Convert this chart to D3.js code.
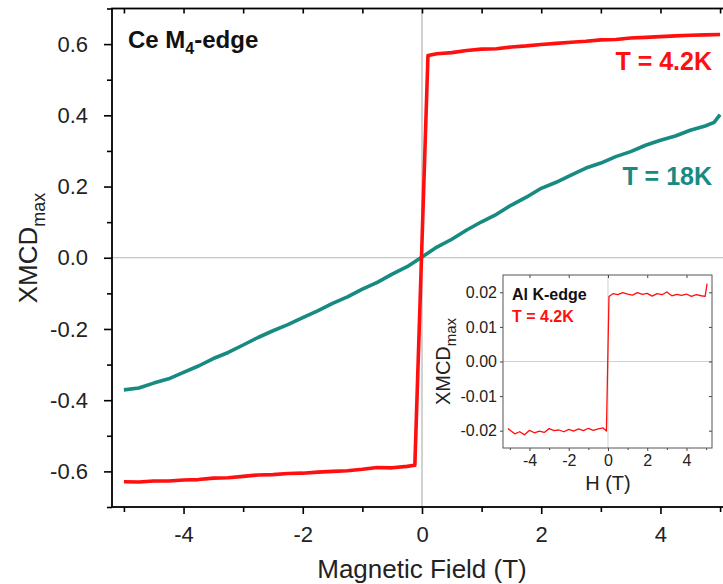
<!DOCTYPE html>
<html>
<head>
<meta charset="utf-8">
<script src="https://cdn.jsdelivr.net/npm/d3@7"></script>
<style>
body { margin: 0; background: #fff; }
text { font-family: "Liberation Sans", Arial, sans-serif; }
.axis path { stroke: none; }
.axis line { stroke: #000; stroke-width: 1.6; }
.axis text { fill: #222; }
.inset .axis line { stroke: #444; stroke-width: 1; }
</style>
</head>
<body>
<div id="svg_container"></div>
<script>

/* -----------------------
data
------------------------- */

// Ce M4-edge, T = 4.2K
var redField = [-5,-4.75,-4.5,-4.25,-4,-3.75,-3.5,-3.25,-3,-2.75,-2.5,-2.25,-2,-1.75,-1.5,-1.25,-1,-0.75,-0.5,-0.25,-0.12,
	0.1,0.25,0.5,0.75,1,1.25,1.5,1.75,2,2.25,2.5,2.75,3,3.25,3.5,3.75,4,4.25,4.5,4.75,5];
var redXmcd = [-0.629,-0.630,-0.627,-0.627,-0.624,-0.623,-0.619,-0.618,-0.614,-0.610,-0.609,-0.606,-0.605,-0.602,-0.600,-0.598,-0.594,-0.589,-0.590,-0.586,-0.583,
	0.568,0.573,0.576,0.582,0.586,0.587,0.592,0.595,0.599,0.602,0.605,0.608,0.612,0.613,0.617,0.619,0.621,0.623,0.625,0.626,0.627];

// Ce M4-edge, T = 18K
var tealField = [-5,-4.75,-4.5,-4.25,-4,-3.75,-3.5,-3.25,-3,-2.75,-2.5,-2.25,-2,-1.75,-1.5,-1.25,-1,-0.75,-0.5,-0.25,0,
	0.25,0.5,0.75,1,1.25,1.5,1.75,2,2.25,2.5,2.75,3,3.25,3.5,3.75,4,4.25,4.5,4.75,4.9,5];
var tealXmcd = [-0.371,-0.366,-0.352,-0.340,-0.322,-0.304,-0.283,-0.266,-0.245,-0.224,-0.205,-0.188,-0.168,-0.149,-0.128,-0.110,-0.088,-0.069,-0.046,-0.025,0.002,
	0.030,0.052,0.078,0.101,0.122,0.148,0.170,0.195,0.212,0.232,0.252,0.266,0.284,0.298,0.316,0.330,0.342,0.358,0.370,0.380,0.402];

// Al K-edge, T = 4.2K (inset)
var alField = [-5.1,-4.75,-4.5,-4.25,-4,-3.75,-3.5,-3.25,-3,-2.75,-2.5,-2.25,-2,-1.75,-1.5,-1.25,-1,-0.75,-0.5,-0.25,-0.08,
	0.05,0.25,0.5,0.75,1,1.25,1.5,1.75,2,2.25,2.5,2.75,3,3.25,3.5,3.75,4,4.25,4.5,4.75,4.95,5.05];
var alXmcd = [-0.0194,-0.0209,-0.0203,-0.0212,-0.0199,-0.0206,-0.0201,-0.0205,-0.0194,-0.0200,-0.0198,-0.0203,-0.0196,-0.0201,-0.0195,-0.0200,-0.0193,-0.0199,-0.0195,-0.0192,-0.0201,
	0.0188,0.0196,0.0193,0.0199,0.0195,0.0192,0.0199,0.0194,0.0197,0.0189,0.0196,0.0193,0.0201,0.0190,0.0194,0.0191,0.0195,0.0188,0.0193,0.0190,0.0188,0.0225];

var xMajor = [-4,-2,0,2,4];
var xMinor = [-5,-3,-1,1,3,5];
var yMajor = [-0.6,-0.4,-0.2,0,0.2,0.4,0.6];
var yMinor = [-0.7,-0.5,-0.3,-0.1,0.1,0.3,0.5,0.7];
var insetYMajor = [-0.02,-0.01,0,0.01,0.02];

/* -----------------------
main variables
------------------------- */

var width = 723;
var height = 584;
var red = '#ff1010';
var teal = '#178a82';

var svg = d3.select("#svg_container")
	.append("svg")
	.attr("width", width)
	.attr("height", height);

var x = d3.scaleLinear().domain([-5.2, 5.2]).range([112, 732]);
var y = d3.scaleLinear().domain([-0.7, 0.7]).range([507, 8.5]);

var zip = function (xs, ys) { return xs.map(function (v, i) { return [v, ys[i]]; }); };

// plain hyphen for minus, like the original
var fmt = function (f) { return function (d) { return d3.format(f)(d).replace('\u2212', '-'); }; };

/* -----------------------
main plot
------------------------- */

svg.append('clipPath').attr('id', 'clip')
	.append('rect')
	.attr('x', x(-5.2)).attr('y', y(0.7))
	.attr('width', x(5.2) - x(-5.2)).attr('height', y(-0.7) - y(0.7));

// zero lines
svg.append('line')
	.attr('x1', x(-5.2)).attr('x2', x(5.2))
	.attr('y1', y(0)).attr('y2', y(0))
	.attr('stroke', '#b4b4b4').attr('stroke-width', 1.2);
svg.append('line')
	.attr('x1', x(0)).attr('x2', x(0))
	.attr('y1', y(0.7)).attr('y2', y(-0.7))
	.attr('stroke', '#b4b4b4').attr('stroke-width', 1.2);

var line = d3.line()
	.x(function (d) { return x(d[0]); })
	.y(function (d) { return y(d[1]); });

svg.append('path')
	.datum(zip(tealField, tealXmcd))
	.attr('clip-path', 'url(#clip)')
	.attr('d', line)
	.attr('fill', 'none')
	.attr('stroke', teal)
	.attr('stroke-width', 3.6)
	.attr('stroke-linejoin', 'round');

svg.append('path')
	.datum(zip(redField, redXmcd))
	.attr('clip-path', 'url(#clip)')
	.attr('d', line)
	.attr('fill', 'none')
	.attr('stroke', red)
	.attr('stroke-width', 3.6)
	.attr('stroke-linejoin', 'round');

/* --- axes --- */

var axBottom = svg.append('g').attr('class', 'axis')
	.attr('transform', 'translate(0,' + y(-0.7) + ')');
axBottom.call(d3.axisBottom(x).tickValues(xMajor).tickSize(7).tickPadding(12).tickFormat(fmt('d')));
axBottom.append('g').call(d3.axisBottom(x).tickValues(xMinor).tickSize(5).tickFormat(''));
axBottom.selectAll('text').attr('font-size', 22);

var axLeft = svg.append('g').attr('class', 'axis')
	.attr('transform', 'translate(' + x(-5.2) + ',0)');
axLeft.call(d3.axisLeft(y).tickValues(yMajor).tickSize(8).tickPadding(16).tickFormat(fmt('.1f')));
axLeft.append('g').call(d3.axisLeft(y).tickValues(yMinor).tickSize(5).tickFormat(''));
axLeft.selectAll('text').attr('font-size', 22);

var axTop = svg.append('g').attr('class', 'axis')
	.attr('transform', 'translate(0,' + y(0.7) + ')');
axTop.call(d3.axisTop(x).tickValues(xMajor.concat(xMinor)).tickSize(-5).tickFormat(''));

var axRight = svg.append('g').attr('class', 'axis')
	.attr('transform', 'translate(' + x(5.2) + ',0)');
axRight.call(d3.axisRight(y).tickValues(yMajor.concat(yMinor)).tickSize(-5).tickFormat(''));

svg.append('rect')
	.attr('x', x(-5.2)).attr('y', y(0.7))
	.attr('width', x(5.2) - x(-5.2)).attr('height', y(-0.7) - y(0.7))
	.attr('fill', 'none').attr('stroke', '#000').attr('stroke-width', 1.8);

/* --- labels --- */

svg.append('text')
	.attr('x', x(0)).attr('y', 578)
	.attr('text-anchor', 'middle')
	.attr('font-size', 26)
	.attr('fill', '#222')
	.text('Magnetic Field (T)');

var ylab = svg.append('text')
	.attr('transform', 'translate(37,' + 248 + ') rotate(-90)')
	.attr('text-anchor', 'middle')
	.attr('fill', '#222');
ylab.append('tspan').attr('font-size', 26).text('XMCD');
ylab.append('tspan').attr('font-size', 18).attr('dy', 8).text('max');

var title = svg.append('text')
	.attr('x', 128).attr('y', 48)
	.attr('font-size', 24)
	.attr('font-weight', 'bold')
	.attr('fill', '#111');
title.append('tspan').text('Ce M');
title.append('tspan').attr('font-size', 16).attr('dy', 6).text('4');
title.append('tspan').attr('dy', -6).text('-edge');

svg.append('text')
	.attr('x', 712).attr('y', 70)
	.attr('text-anchor', 'end')
	.attr('font-size', 25)
	.attr('font-weight', 'bold')
	.attr('fill', red)
	.text('T = 4.2K');

svg.append('text')
	.attr('x', 712).attr('y', 185)
	.attr('text-anchor', 'end')
	.attr('font-size', 25)
	.attr('font-weight', 'bold')
	.attr('fill', teal)
	.text('T = 18K');

/* -----------------------
inset
------------------------- */

var ix = d3.scaleLinear().domain([-5.35, 5.3]).range([503, 712]);
var iy = d3.scaleLinear().domain([-0.025, 0.025]).range([448, 275]);

var inset = svg.append('g').attr('class', 'inset');

inset.append('rect')
	.attr('x', ix(-5.35)).attr('y', iy(0.025))
	.attr('width', ix(5.3) - ix(-5.35)).attr('height', iy(-0.025) - iy(0.025))
	.attr('fill', '#fff');

inset.append('line')
	.attr('x1', ix(-5.35)).attr('x2', ix(5.3))
	.attr('y1', iy(0)).attr('y2', iy(0))
	.attr('stroke', '#d0d0d0').attr('stroke-width', 1);
inset.append('line')
	.attr('x1', ix(0)).attr('x2', ix(0))
	.attr('y1', iy(0.025)).attr('y2', iy(-0.025))
	.attr('stroke', '#d0d0d0').attr('stroke-width', 1);

var iline = d3.line()
	.x(function (d) { return ix(d[0]); })
	.y(function (d) { return iy(d[1]); });

inset.append('path')
	.datum(zip(alField, alXmcd))
	.attr('d', iline)
	.attr('fill', 'none')
	.attr('stroke', red)
	.attr('stroke-width', 1.3)
	.attr('stroke-linejoin', 'round');

var ib = inset.append('g').attr('class', 'axis')
	.attr('transform', 'translate(0,' + iy(-0.025) + ')');
ib.call(d3.axisBottom(ix).tickValues(xMajor).tickSize(3).tickPadding(4).tickFormat(fmt('d')));
ib.append('g').call(d3.axisBottom(ix).tickValues(xMinor).tickSize(2).tickFormat(''));
ib.selectAll('text').attr('font-size', 16);

var il = inset.append('g').attr('class', 'axis')
	.attr('transform', 'translate(' + ix(-5.35) + ',0)');
il.call(d3.axisLeft(iy).tickValues(insetYMajor).tickSize(3).tickPadding(3).tickFormat(fmt('.2f')));
il.selectAll('text').attr('font-size', 16);

var ir = inset.append('g').attr('class', 'axis')
	.attr('transform', 'translate(' + ix(5.3) + ',0)');
ir.call(d3.axisRight(iy).tickValues(insetYMajor).tickSize(-3).tickFormat(''));

var it = inset.append('g').attr('class', 'axis')
	.attr('transform', 'translate(0,' + iy(0.025) + ')');
it.call(d3.axisTop(ix).tickValues(xMajor).tickSize(-3).tickFormat(''));

inset.append('rect')
	.attr('x', ix(-5.35)).attr('y', iy(0.025))
	.attr('width', ix(5.3) - ix(-5.35)).attr('height', iy(-0.025) - iy(0.025))
	.attr('fill', 'none').attr('stroke', '#555').attr('stroke-width', 1);

inset.append('text')
	.attr('x', ix(0)).attr('y', 490)
	.attr('text-anchor', 'middle')
	.attr('font-size', 20)
	.attr('fill', '#222')
	.text('H (T)');

var iylab = inset.append('text')
	.attr('transform', 'translate(450,' + iy(0) + ') rotate(-90)')
	.attr('text-anchor', 'middle')
	.attr('fill', '#222');
iylab.append('tspan').attr('font-size', 20).text('XMCD');
iylab.append('tspan').attr('font-size', 15).attr('dy', 6).text('max');

inset.append('text')
	.attr('x', 512).attr('y', 300)
	.attr('font-size', 16)
	.attr('font-weight', 'bold')
	.attr('fill', '#111')
	.text('Al K-edge');

inset.append('text')
	.attr('x', 512).attr('y', 322)
	.attr('font-size', 16)
	.attr('font-weight', 'bold')
	.attr('fill', red)
	.text('T = 4.2K');

</script>
</body>
</html>
